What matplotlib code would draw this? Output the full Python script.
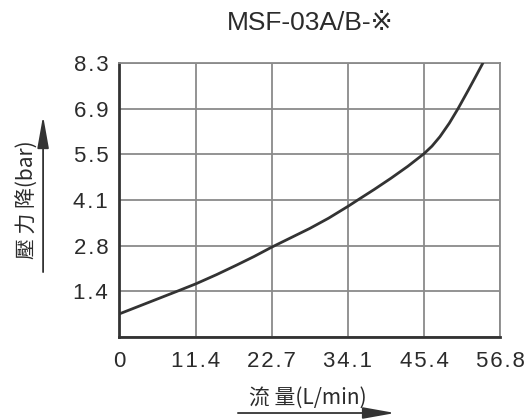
import numpy as np
import matplotlib
matplotlib.use("Agg")
import matplotlib.pyplot as plt
from matplotlib.patches import FancyArrowPatch

# ---------------- DATA ----------------
flow = [0, 4.4, 8.8, 11.4, 14.5, 17.5, 20.1, 22.7, 25.5, 28.4, 31.2, 34.1,
        36.0, 38.0, 40.5, 43.0, 45.4, 46.6, 47.8, 49.2, 50.5, 52.0, 53.2, 54.2]
pressure = [0.70, 1.05, 1.40, 1.61, 1.89, 2.18, 2.44, 2.72, 3.00, 3.29, 3.60, 3.96,
            4.21, 4.47, 4.81, 5.17, 5.55, 5.78, 6.07, 6.48, 6.92, 7.47, 7.92, 8.30]

x_labels = ["0", "11.4", "22.7", "34.1", "45.4", "56.8"]
y_labels = ["", "1.4", "2.8", "4.1", "5.5", "6.9", "8.3"]
x_max = 56.8
y_max = 8.3

TITLE = "MSF-03A/B-※"
XLABEL = "流 量(L/min)"
YLABEL = "壓 力 降(bar)"

# ---------------- STYLE ----------------
FONTS = ["Liberation Sans", "DejaVu Sans", "Noto Sans CJK TC"]
CJK = ["Noto Sans CJK TC", "DejaVu Sans"]
TXT = "#2b2b2b"
GRID = "#8a8a8a"


def spaced(s):
    # letter spacing like the original drawing
    return "\u200a".join(s)


fig = plt.figure(figsize=(5.32, 4.19), dpi=100)
ax = fig.add_axes([0.2243, 0.1957, 0.7162, 0.6539])

ax.plot(flow, pressure, color="#333333", lw=2.0, solid_capstyle="round",
        solid_joinstyle="round", zorder=3)

ax.set_xlim(0, x_max)
ax.set_ylim(0, y_max)
ax.set_xticks(np.linspace(0, x_max, len(x_labels)))
ax.set_yticks(np.linspace(0, y_max, len(y_labels)))
ax.set_xticklabels([spaced(s) for s in x_labels], family=FONTS, fontsize=16, color=TXT)
ax.set_yticklabels([spaced(s) for s in y_labels], family=FONTS, fontsize=16, color=TXT)
ax.tick_params(axis="both", length=0)
ax.tick_params(axis="x", pad=10)
ax.tick_params(axis="y", pad=8)

ax.grid(True, color=GRID, lw=1.3)
ax.set_axisbelow(True)
for side in ["top", "right"]:
    ax.spines[side].set_color(GRID)
    ax.spines[side].set_linewidth(1.3)
for side in ["left", "bottom"]:
    ax.spines[side].set_color("#333333")
    ax.spines[side].set_linewidth(2.0)

fig.text(0.584, 0.945, TITLE, ha="center", va="center", fontsize=19,
         color=TXT, family=FONTS)

fig.text(0.578, 0.050, XLABEL, ha="center", va="center", fontsize=15,
         color=TXT, family=CJK)
fig.text(0.053, 0.523, YLABEL, ha="center", va="center", fontsize=15,
         color=TXT, rotation=90, family=CJK)

# arrows next to the axis labels
for start, end in [((0.442, 0.0143), (0.748, 0.0143)),
                   ((0.081, 0.344), (0.081, 0.730))]:
    fig.add_artist(FancyArrowPatch(
        start, end, transform=fig.transFigure, mutation_scale=14,
        arrowstyle="-|>,head_length=1.4,head_width=0.25",
        color="#333333", lw=1.3))

fig.savefig("out.png", dpi=100)
